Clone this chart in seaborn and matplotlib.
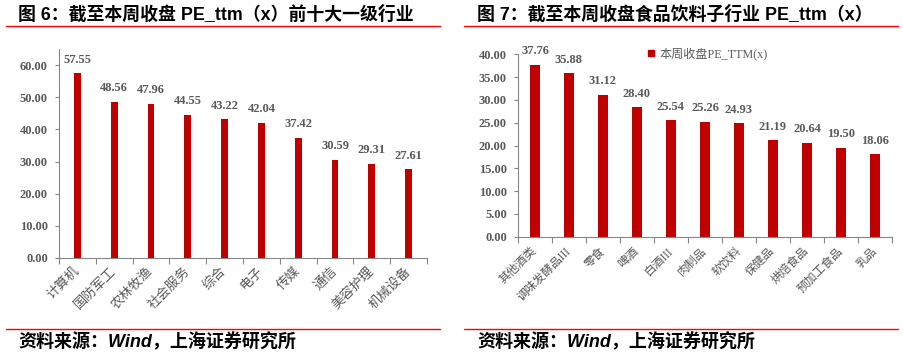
import matplotlib
matplotlib.use('Agg')
import matplotlib.pyplot as plt
import seaborn as sns
import numpy as np
import pandas as pd
from matplotlib.lines import Line2D

# ---------------- data ----------------
left_categories = ['计算机', '国防军工', '农林牧渔', '社会服务', '综合', '电子',
                   '传媒', '通信', '美容护理', '机械设备']
left_values = [57.55, 48.56, 47.96, 44.55, 43.22, 42.04, 37.42, 30.59, 29.31, 27.61]
left_yticks = [0, 10, 20, 30, 40, 50, 60]

right_categories = ['其他酒类', '调味发酵品III', '零食', '啤酒', '白酒III', '肉制品',
                    '软饮料', '保健品', '烘焙食品', '预加工食品', '乳品']
right_values = [37.76, 35.88, 31.12, 28.40, 25.54, 25.26, 24.93, 21.19, 20.64, 19.50, 18.06]
right_yticks = [0, 5, 10, 15, 20, 25, 30, 35, 40]

left_title = '图 6：截至本周收盘 PE_ttm（x）前十大一级行业'
right_title = '图 7：截至本周收盘食品饮料子行业 PE_ttm（x）'
source_text = '资料来源：Wind，上海证券研究所'
legend_label = '本周收盘PE_TTM(x)'

# ---------------- style ----------------
sns.set_style('white')
plt.rcParams['font.family'] = ['Liberation Serif', 'Noto Sans CJK SC', 'DejaVu Sans']

BAR = '#C00000'
GRAY = '#595959'
SPINE = '#868686'
SERIF_CJK = ['Liberation Serif', 'Noto Sans CJK SC']
SANS_CJK = ['Liberation Sans', 'Noto Sans CJK SC']

W, H = 904, 356
fig = plt.figure(figsize=(W / 100, H / 100), dpi=100)


def px_axes(x0, y0, x1, y1):
    return fig.add_axes([x0 / W, 1 - y1 / H, (x1 - x0) / W, (y1 - y0) / H])


def draw_panel(ax, cats, vals, yticks, ylim, width, xfs, xpad):
    df = pd.DataFrame({'cat': cats, 'val': vals})
    sns.barplot(data=df, x='cat', y='val', color=BAR, saturation=1, width=width,
                linewidth=0, ax=ax)
    n = len(cats)
    ax.set_xlim(-0.5, n - 0.5)
    ax.set_ylim(*ylim)
    ax.set_xlabel('')
    ax.set_ylabel('')
    for s in ['top', 'right']:
        ax.spines[s].set_visible(False)
    for s in ['left', 'bottom']:
        ax.spines[s].set_color(SPINE)
        ax.spines[s].set_linewidth(0.8)
    ax.set_yticks(yticks)
    ax.set_yticklabels([f'{v:.2f}' for v in yticks], fontsize=9, fontweight='bold',
                       color=GRAY, family='Liberation Serif')
    ax.tick_params(axis='y', length=3, width=0.8, color=SPINE, pad=5, left=True)
    ax.set_xticks(range(n))
    ax.set_xticklabels(cats, rotation=45, ha='right', va='center', rotation_mode='anchor',
                       fontsize=xfs, color=GRAY, family=SERIF_CJK)
    ax.set_xticks(np.arange(-0.5, n, 1.0), minor=True)
    ax.tick_params(axis='x', which='major', length=0, pad=xpad)
    ax.tick_params(axis='x', which='minor', length=4, width=0.8, color=SPINE, bottom=True)
    for i, v in enumerate(vals):
        ax.annotate(f'{v:.2f}', (i, v), xytext=(0, 7.5), textcoords='offset points',
                    ha='center', va='baseline', fontsize=9, fontweight='bold',
                    color=GRAY, family='Liberation Serif', annotation_clip=False)


axL = px_axes(59, 49, 427, 258)
draw_panel(axL, left_categories, left_values, left_yticks, (0, 65), 0.19, 9.5, 8)

axR = px_axes(518, 54.3, 892, 236.7)
draw_panel(axR, right_categories, right_values, right_yticks, (0, 40), 0.32, 8.5, 9)

handle = Line2D([], [], marker='s', color=BAR, linestyle='none', markersize=5)
leg = axR.legend(handles=[handle], labels=[legend_label], loc='center left',
                 bbox_to_anchor=(646 / W, 1 - 54 / H), bbox_transform=fig.transFigure,
                 frameon=False, handlelength=0.8, handletextpad=0.3, borderpad=0,
                 borderaxespad=0, prop={'family': SERIF_CJK, 'size': 8.7})
for t in leg.get_texts():
    t.set_color(GRAY)

# titles, rules and source lines
for x0, x1, tx, title in [(6, 440, 18, left_title), (464, 898, 477, right_title)]:
    fig.text(tx / W, 1 - 15 / H, title, fontsize=12.9, fontweight='bold',
             ha='left', va='center', family=SANS_CJK, color='black')
    fig.add_artist(Line2D([x0 / W, x1 / W], [1 - 26 / H] * 2, color='#FF0000', lw=1))
    fig.add_artist(Line2D([x0 / W, x1 / W], [1 - 329 / H] * 2, color='#FF0000', lw=1))
    fig.text(tx / W, 1 - 342 / H, source_text, fontsize=13, fontweight='bold',
             style='italic', ha='left', va='center', family=SANS_CJK, color='black')

fig.savefig('out.png', dpi=100)
